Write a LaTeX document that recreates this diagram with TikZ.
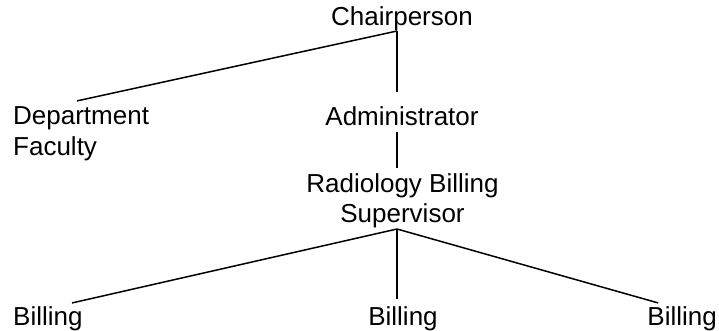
\documentclass[tikz,border=0pt]{standalone}
\usepackage{fontspec}
\setmainfont{Liberation Sans}
\usetikzlibrary{positioning,calc}

\begin{document}
\begin{tikzpicture}[x=1pt, y=-1pt,
    lbl/.style={inner sep=0pt, font=\fontsize{26}{30.5}\selectfont, align=center},
    conn/.style={draw=black, line width=1.5pt}
]
  \useasboundingbox (0,0) rectangle (719,331);
  \node[lbl, anchor=base] (chair) at (402,26) {Chairperson};
  \node[lbl, anchor=base west, align=left] (dept) at (13,155.5) {Department\\Faculty};
  \node[lbl, anchor=base] (admin) at (402,126) {Administrator};
  \node[lbl, anchor=base] (super) at (402.5,222.5) {Radiology Billing\\Supervisor};
  \node[lbl, anchor=base west] (billa) at (13,325) {Billing};
  \node[lbl, anchor=base] (billb) at (403,325) {Billing};
  \node[lbl, anchor=base east] (billc) at (717,325) {Billing};
  \coordinate (top) at (397,31);
  \coordinate (mid) at (397,229);
  % upper level
  \draw[conn] (top) -- ([shift={(64pt,6pt)}]dept.north west);
  \draw[conn] (top) -- ([yshift=15pt]top |- admin.north);
  \draw[conn] ([yshift=-6pt]top |- admin.south) -- ([yshift=5pt]top |- super.north);
  % lower level
  \draw[conn] (mid) -- ([shift={(59pt,3pt)}]billa.north west);
  \draw[conn] (mid) -- ([yshift=7pt]mid |- billb.north);
  \draw[conn] (mid) -- ([shift={(11pt,3pt)}]billc.north west);
\end{tikzpicture}
\end{document}
